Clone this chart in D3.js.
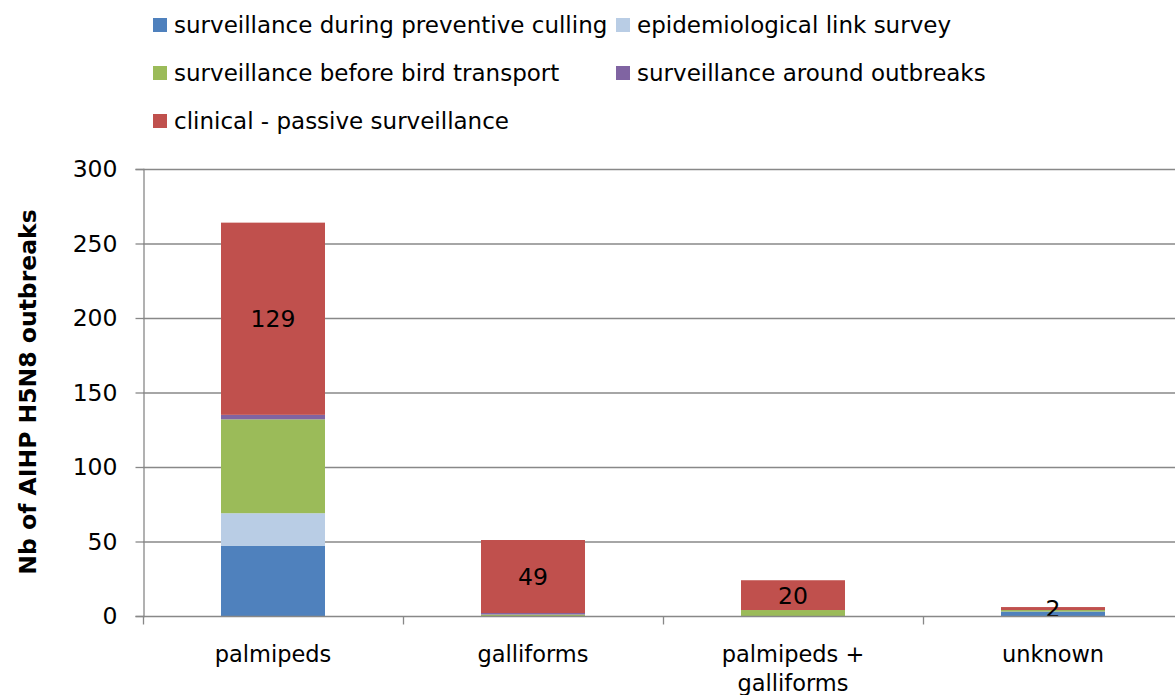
<!DOCTYPE html>
<html>
<head>
<meta charset="utf-8">
<script src="https://cdn.jsdelivr.net/npm/d3@7"></script>
<style>
  html, body { margin: 0; padding: 0; background: #fff; }
  svg { display: block; }
  text { font-family: "DejaVu Sans", Verdana, sans-serif; fill: #000; }
</style>
</head>
<body>
<svg id="chart" width="1175" height="695"></svg>
<script>
// Outbreak counts by species group and detection method
const categories = ["palmipeds", "galliforms", "palmipeds + galliforms", "unknown"];
const categoryLines = [["palmipeds"], ["galliforms"], ["palmipeds +", "galliforms"], ["unknown"]];
const seriesNames = [
  "surveillance during preventive culling",
  "epidemiological link survey",
  "surveillance before bird transport",
  "surveillance around outbreaks",
  "clinical - passive surveillance"
];
const seriesColors = ["#4f81bd", "#b9cde5", "#9bbb59", "#8064a2", "#c0504d"];
const preventiveCulling = [47, 0, 0, 3];
const epidemiologicalLink = [22, 0, 0, 0];
const beforeTransport = [63, 1, 4, 1];
const aroundOutbreaks = [3, 1, 0, 0];
const clinicalPassive = [129, 49, 20, 2];
const yTicks = [0, 50, 100, 150, 200, 250, 300];
const yTitle = "Nb of AIHP H5N8 outbreaks";

const seriesValues = [preventiveCulling, epidemiologicalLink, beforeTransport, aroundOutbreaks, clinicalPassive];
const rows = categories.map((c, i) => {
  const r = { category: c };
  seriesNames.forEach((s, k) => { r[s] = seriesValues[k][i]; });
  return r;
});

const svg = d3.select("#chart");
const plotLeft = 143, plotRight = 1183, plotTop = 169, plotBottom = 616;

const x = d3.scaleBand().domain(categories).range([plotLeft, plotRight]).paddingInner(0).paddingOuter(0);
const y = d3.scaleLinear().domain([0, 300]).range([plotBottom, plotTop]);

// gridlines
svg.append("g").selectAll("line").data(yTicks.filter(t => t > 0)).join("line")
  .attr("x1", plotLeft).attr("x2", plotRight)
  .attr("y1", d => y(d) + 0.5).attr("y2", d => y(d) + 0.5)
  .attr("stroke", "#888").attr("stroke-width", 1.3);

// stacked bars
const stack = d3.stack().keys(seriesNames)(rows);
const barW = x.bandwidth() * 0.4;
svg.append("g").selectAll("g").data(stack).join("g")
  .attr("fill", (d, i) => seriesColors[i])
  .selectAll("rect").data(d => d).join("rect")
  .attr("x", d => x(d.data.category) + (x.bandwidth() - barW) / 2)
  .attr("width", barW)
  .attr("y", d => y(d[1]))
  .attr("height", d => y(d[0]) - y(d[1]));

// value labels on clinical segment
const lastLayer = stack[stack.length - 1];
svg.append("g").selectAll("text").data(lastLayer).join("text")
  .attr("x", d => x(d.data.category) + x.bandwidth() / 2)
  .attr("y", d => (y(d[0]) + y(d[1])) / 2)
  .attr("dy", "0.36em")
  .attr("text-anchor", "middle")
  .attr("font-size", 23.5)
  .text((d, i) => clinicalPassive[i]);

// y axis
const yAxis = d3.axisLeft(y).tickValues(yTicks).tickSize(8).tickPadding(18);
const gy = svg.append("g").attr("transform", `translate(${plotLeft + 0.5},0)`).call(yAxis);
gy.select(".domain").attr("stroke", "#888").attr("stroke-width", 1.3);
gy.selectAll(".tick line").attr("stroke", "#888").attr("stroke-width", 1.3);
gy.selectAll(".tick text").attr("font-size", 23.5).attr("font-family", "DejaVu Sans").attr("fill", "#000");

// x axis
const gx = svg.append("g").attr("transform", `translate(0,${plotBottom + 0.5})`);
gx.append("line").attr("x1", plotLeft).attr("x2", plotRight).attr("stroke", "#888").attr("stroke-width", 1.3);
const bounds = categories.map(c => x(c)).concat([plotRight]);
gx.selectAll("line.tk").data(bounds).join("line").attr("class", "tk")
  .attr("x1", d => d + 0.5).attr("x2", d => d + 0.5).attr("y1", 0).attr("y2", 8)
  .attr("stroke", "#888").attr("stroke-width", 1.3);
gx.selectAll("text").data(categories).join("text")
  .attr("x", c => x(c) + x.bandwidth() / 2)
  .attr("y", 45)
  .attr("text-anchor", "middle")
  .attr("font-size", 22.5)
  .selectAll("tspan").data((c, i) => categoryLines[i]).join("tspan")
  .attr("x", function () { return d3.select(this.parentNode).attr("x"); })
  .attr("dy", (d, j) => j === 0 ? 0 : 29)
  .text(d => d);

// y axis title
svg.append("text")
  .attr("transform", `translate(36,392) rotate(-90)`)
  .attr("text-anchor", "middle")
  .attr("font-size", 23.5)
  .attr("font-weight", "bold")
  .text(yTitle);

// legend
const legendPos = [[153, 25], [616, 25], [153, 73], [616, 73], [153, 121]];
const lg = svg.append("g").selectAll("g").data(seriesNames).join("g")
  .attr("transform", (d, i) => `translate(${legendPos[i][0]},${legendPos[i][1]})`);
lg.append("rect").attr("x", 0).attr("y", -7).attr("width", 14).attr("height", 14)
  .attr("fill", (d, i) => seriesColors[i]);
lg.append("text").attr("x", 21).attr("dy", "0.36em").attr("font-size", 23).text(d => d);
</script>
</body>
</html>
